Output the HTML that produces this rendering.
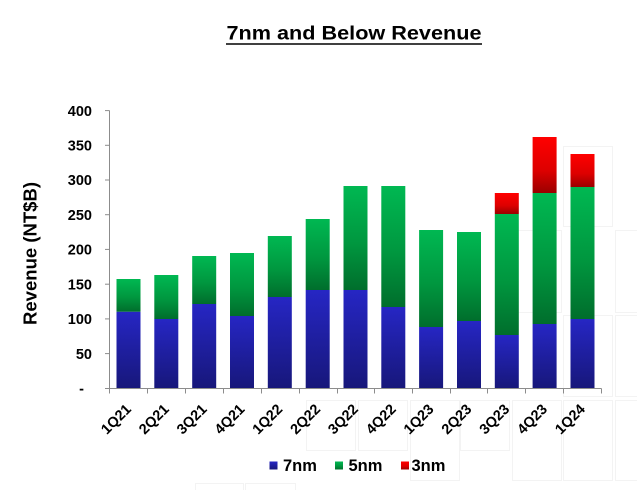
<!DOCTYPE html>
<html>
<head>
<meta charset="utf-8">
<style>
  html,body{margin:0;padding:0;background:#fff;}
  svg{display:block;}
  text{font-family:"Liberation Sans",Arial,sans-serif;font-weight:bold;fill:#000;}
</style>
</head>
<body>
<svg width="637" height="490" viewBox="0 0 637 490" xmlns="http://www.w3.org/2000/svg">
  <defs>
    <linearGradient id="gb" x1="0" y1="0" x2="0" y2="1">
      <stop offset="0" stop-color="#2626c4"/>
      <stop offset="1" stop-color="#17177a"/>
    </linearGradient>
    <linearGradient id="gg" x1="0" y1="0" x2="0" y2="1">
      <stop offset="0" stop-color="#00b852"/>
      <stop offset="0.55" stop-color="#00973f"/>
      <stop offset="1" stop-color="#006e2c"/>
    </linearGradient>
    <linearGradient id="gr" x1="0" y1="0" x2="0" y2="1">
      <stop offset="0" stop-color="#ff0000"/>
      <stop offset="0.6" stop-color="#dd0000"/>
      <stop offset="1" stop-color="#9a0000"/>
    </linearGradient>
  </defs>

  <!-- faint background artifacts -->
  <g fill="none" stroke="#f3f3f3" stroke-width="1">
    <rect x="563.5" y="146.5" width="49" height="80"/>
    <rect x="615.5" y="230.5" width="30" height="82"/>
    <rect x="563.5" y="315.5" width="49" height="81"/>
    <rect x="615.5" y="315.5" width="30" height="81"/>
    <rect x="563.5" y="400.5" width="49" height="80"/>
    <rect x="615.5" y="400.5" width="30" height="80"/>
    <rect x="512.5" y="230.5" width="49" height="82"/>
    <rect x="512.5" y="400.5" width="49" height="80"/>
    <rect x="410.5" y="400.5" width="49" height="80"/>
    <rect x="306.5" y="400.5" width="49" height="50"/>
    <rect x="358.5" y="400.5" width="49" height="50"/>
    <rect x="460.5" y="400.5" width="49" height="50"/>
    <rect x="245.5" y="483.5" width="50" height="10"/>
    <rect x="195.5" y="483.5" width="48" height="10"/>
  </g>

  <!-- Title -->
  <text x="226.5" y="39.5" font-size="19" textLength="255" lengthAdjust="spacingAndGlyphs">7nm and Below Revenue</text>
  <line x1="226" y1="44" x2="482" y2="44" stroke="#000" stroke-width="1.6"/>

  <!-- Y axis title -->
  <text transform="translate(36.5,253.5) rotate(-90)" text-anchor="middle" font-size="18" textLength="143" lengthAdjust="spacingAndGlyphs">Revenue (NT$B)</text>

  <!-- Y labels -->
  <g font-size="14.5" text-anchor="end">
    <text x="92" y="115.8">400</text>
    <text x="92" y="150.5">350</text>
    <text x="92" y="185.2">300</text>
    <text x="92" y="219.9">250</text>
    <text x="92" y="254.6">200</text>
    <text x="92" y="289.4">150</text>
    <text x="92" y="324.1">100</text>
    <text x="92" y="358.8">50</text>
    <text x="84" y="393.5">-</text>
  </g>

  <!-- Bars -->
  <g>
    <rect x="116.5" y="311.7" width="24" height="76.6" fill="url(#gb)"/>
    <rect x="116.5" y="279" width="24" height="32.7" fill="url(#gg)"/>
    <rect x="154.3" y="319" width="24" height="69.3" fill="url(#gb)"/>
    <rect x="154.3" y="275" width="24" height="44" fill="url(#gg)"/>
    <rect x="192.2" y="304" width="24" height="84.3" fill="url(#gb)"/>
    <rect x="192.2" y="256" width="24" height="48" fill="url(#gg)"/>
    <rect x="230" y="316" width="24" height="72.3" fill="url(#gb)"/>
    <rect x="230" y="253" width="24" height="63" fill="url(#gg)"/>
    <rect x="267.8" y="297" width="24" height="91.3" fill="url(#gb)"/>
    <rect x="267.8" y="236" width="24" height="61" fill="url(#gg)"/>
    <rect x="305.7" y="290" width="24" height="98.3" fill="url(#gb)"/>
    <rect x="305.7" y="219" width="24" height="71" fill="url(#gg)"/>
    <rect x="343.5" y="290" width="24" height="98.3" fill="url(#gb)"/>
    <rect x="343.5" y="186" width="24" height="104" fill="url(#gg)"/>
    <rect x="381.3" y="307" width="24" height="81.3" fill="url(#gb)"/>
    <rect x="381.3" y="186" width="24" height="121" fill="url(#gg)"/>
    <rect x="419.1" y="327" width="24" height="61.3" fill="url(#gb)"/>
    <rect x="419.1" y="230" width="24" height="97" fill="url(#gg)"/>
    <rect x="457" y="321" width="24" height="67.3" fill="url(#gb)"/>
    <rect x="457" y="232" width="24" height="89" fill="url(#gg)"/>
    <rect x="494.8" y="335" width="24" height="53.3" fill="url(#gb)"/>
    <rect x="494.8" y="214" width="24" height="121" fill="url(#gg)"/>
    <rect x="494.8" y="193" width="24" height="21" fill="url(#gr)"/>
    <rect x="532.6" y="324" width="24" height="64.3" fill="url(#gb)"/>
    <rect x="532.6" y="193" width="24" height="131" fill="url(#gg)"/>
    <rect x="532.6" y="137" width="24" height="56" fill="url(#gr)"/>
    <rect x="570.5" y="319" width="24" height="69.3" fill="url(#gb)"/>
    <rect x="570.5" y="187" width="24" height="132" fill="url(#gg)"/>
    <rect x="570.5" y="154" width="24" height="33" fill="url(#gr)"/>
  </g>

  <!-- Axes -->
  <g stroke="#8c8c8c" stroke-width="1" fill="none">
    <line x1="109.5" y1="110.5" x2="109.5" y2="388.5"/>
    <line x1="109.5" y1="388.5" x2="601.5" y2="388.5"/>
    <line x1="105" y1="110.6" x2="109.5" y2="110.6"/>
    <line x1="105" y1="145.3" x2="109.5" y2="145.3"/>
    <line x1="105" y1="180.0" x2="109.5" y2="180.0"/>
    <line x1="105" y1="214.7" x2="109.5" y2="214.7"/>
    <line x1="105" y1="249.4" x2="109.5" y2="249.4"/>
    <line x1="105" y1="284.2" x2="109.5" y2="284.2"/>
    <line x1="105" y1="318.9" x2="109.5" y2="318.9"/>
    <line x1="105" y1="353.6" x2="109.5" y2="353.6"/>
    <line x1="105" y1="388.5" x2="109.5" y2="388.5"/>
    <line x1="109.5" y1="388.5" x2="109.5" y2="393.5"/>
    <line x1="147.5" y1="388.5" x2="147.5" y2="393.5"/>
    <line x1="185.5" y1="388.5" x2="185.5" y2="393.5"/>
    <line x1="223.5" y1="388.5" x2="223.5" y2="393.5"/>
    <line x1="261.5" y1="388.5" x2="261.5" y2="393.5"/>
    <line x1="299.5" y1="388.5" x2="299.5" y2="393.5"/>
    <line x1="337.5" y1="388.5" x2="337.5" y2="393.5"/>
    <line x1="374.5" y1="388.5" x2="374.5" y2="393.5"/>
    <line x1="412.5" y1="388.5" x2="412.5" y2="393.5"/>
    <line x1="450.5" y1="388.5" x2="450.5" y2="393.5"/>
    <line x1="487.5" y1="388.5" x2="487.5" y2="393.5"/>
    <line x1="525.5" y1="388.5" x2="525.5" y2="393.5"/>
    <line x1="563.5" y1="388.5" x2="563.5" y2="393.5"/>
    <line x1="601.5" y1="388.5" x2="601.5" y2="393.5"/>
  </g>

  <!-- X labels -->
  <g font-size="14.5" text-anchor="end">
    <text transform="translate(132,410) rotate(-45)">1Q21</text>
    <text transform="translate(169.8,410) rotate(-45)">2Q21</text>
    <text transform="translate(207.7,410) rotate(-45)">3Q21</text>
    <text transform="translate(245.5,410) rotate(-45)">4Q21</text>
    <text transform="translate(283.3,410) rotate(-45)">1Q22</text>
    <text transform="translate(321.2,410) rotate(-45)">2Q22</text>
    <text transform="translate(359,410) rotate(-45)">3Q22</text>
    <text transform="translate(396.8,410) rotate(-45)">4Q22</text>
    <text transform="translate(434.6,410) rotate(-45)">1Q23</text>
    <text transform="translate(472.5,410) rotate(-45)">2Q23</text>
    <text transform="translate(510.3,410) rotate(-45)">3Q23</text>
    <text transform="translate(548.1,410) rotate(-45)">4Q23</text>
    <text transform="translate(586,410) rotate(-45)">1Q24</text>
  </g>

  <!-- Legend -->
  <rect x="269.5" y="461.5" width="8" height="8" fill="url(#gb)"/>
  <text x="283" y="471" font-size="16.5">7nm</text>
  <rect x="335" y="461.5" width="8" height="8" fill="url(#gg)"/>
  <text x="348.5" y="471" font-size="16.5">5nm</text>
  <rect x="401" y="461.5" width="8" height="8" fill="url(#gr)"/>
  <text x="411.5" y="471" font-size="16.5">3nm</text>
</svg>
</body>
</html>
